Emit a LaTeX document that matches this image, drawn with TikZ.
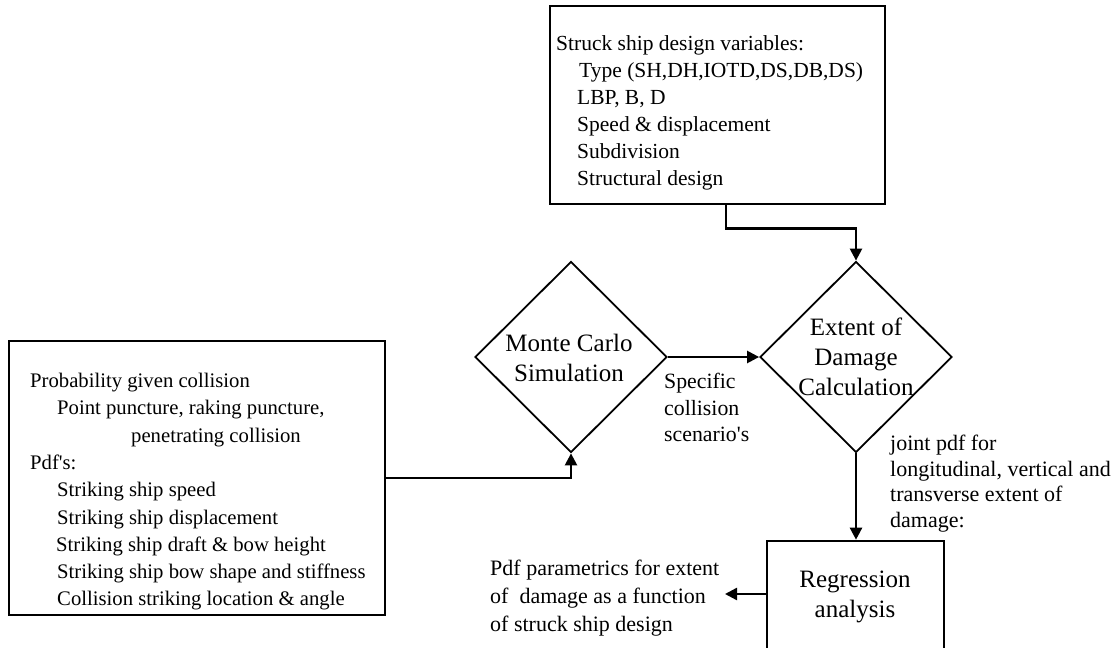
\documentclass[tikz,border=0pt]{standalone}
\usepackage{fontspec}
\setmainfont{Liberation Serif}
\newfontfamily\qfont{Liberation Serif}
\usetikzlibrary{arrows.meta,shapes.geometric}
\newcommand{\sq}{{\qfont\char"0027\relax}}
\begin{document}
\begin{tikzpicture}[x=1pt,y=-1pt,
  box/.style={draw, line width=2.6pt, inner sep=0pt, rectangle},
  dia/.style={draw, diamond, line width=1.8pt, inner sep=0pt, minimum width=192pt, minimum height=191pt},
  conn/.style={line width=2.4pt, -{Triangle[length=12pt,width=12pt]}},
  txt/.style={inner sep=0pt, align=left},
  ctxt/.style={inner sep=0pt, align=center, font=\fontsize{25}{30}\selectfont}]
\useasboundingbox (0,0) rectangle (1120,648);
\clip (0,0) rectangle (1120,648);
% boxes
\node[box, minimum width=335pt, minimum height=198pt] (tb) at (717.5,105) {};
\node[box, minimum width=376pt, minimum height=274pt] (lbox) at (197,478) {};
\node[box, minimum width=177pt, minimum height=130pt] (reg) at (855.5,606) {};
% diamonds
\node[dia] (mc) at (571,357) {};
\node[dia] (ed) at (856,357) {};
% texts
\node[txt, anchor=north west, font=\fontsize{21.5}{27}\selectfont] (tbt) at (556,35)
 {Struck ship design variables:\\
  \hspace*{23pt}Type (SH,DH,IOTD,DS,DB,DS)\\
  \hspace*{21pt}LBP, B, D\\
  \hspace*{21pt}Speed \& displacement\\
  \hspace*{21pt}Subdivision\\
  \hspace*{21pt}Structural design};
\node[txt, anchor=north west, font=\fontsize{20.7}{27.3}\selectfont] (lbt) at (30,373)
 {Probability given collision\\
  \hspace*{27pt}Point puncture, raking puncture,\\
  \hspace*{101pt}penetrating collision\\
  Pdf\sq s:\\
  \hspace*{27pt}Striking ship speed\\
  \hspace*{27pt}Striking ship displacement\\
  \hspace*{26pt}Striking ship draft \& bow height\\
  \hspace*{27pt}Striking ship bow shape and stiffness\\
  \hspace*{27pt}Collision striking location \& angle};
\node[ctxt] (mct) at (569,357.5) {Monte Carlo\\Simulation};
\node[ctxt] (edt) at (856,357) {Extent of\\Damage\\Calculation};
\node[ctxt] (regt) at (855,597) {Regression\\analysis};
\node[txt, anchor=north west, font=\fontsize{21.8}{26.5}\selectfont] (sct) at (664,373)
 {Specific\\collision\\scenario\sq s};
\node[txt, anchor=north west, font=\fontsize{22}{25.5}\selectfont] (jt) at (890,435)
 {joint pdf for\\longitudinal, vertical and\\transverse extent of\\damage:};
\node[txt, anchor=north west, font=\fontsize{22}{28}\selectfont] (pdft) at (490,560)
 {Pdf parametrics for extent\\of\ \ damage as a function\\of struck ship design};
% connectors
\coordinate (tip) at (725,594);
\draw[conn] ([xshift=8.5pt]tb.south) |- ([yshift=32pt]ed.north) -- (ed.north);
\draw[conn] (lbox.east) -| (mc.south);
\draw[conn] (mc.east) -- (ed.west);
\draw[conn] (ed.south) -- (ed.south |- reg.north);
\draw[conn] (reg.west |- tip) -- (tip);
\end{tikzpicture}
\end{document}
